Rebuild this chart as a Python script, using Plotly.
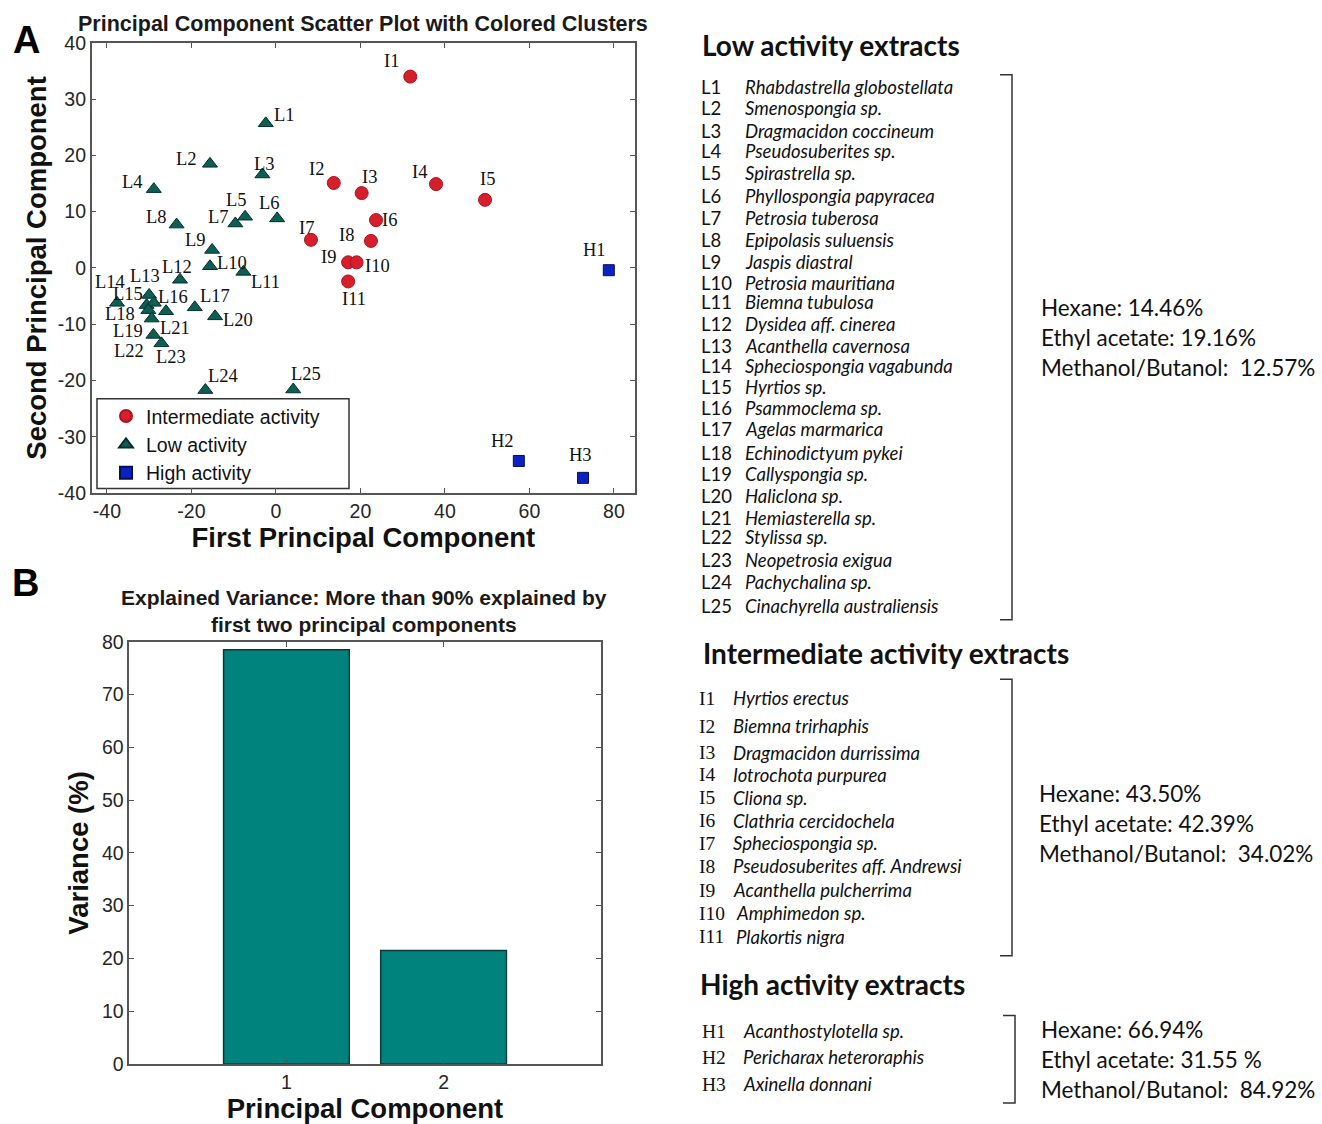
import plotly.graph_objects as go

W, H = 1322, 1124

# ---------------- DATA ----------------
inter_labels = ["I1", "I2", "I3", "I4", "I5", "I6", "I7", "I8", "I9", "I10", "I11"]
inter_pc1 = [31.8, 13.7, 20.3, 37.9, 49.5, 23.7, 8.3, 22.5, 17.1, 19.1, 17.1]
inter_pc2 = [34.0, 15.1, 13.3, 14.9, 12.1, 8.5, 5.0, 4.8, 1.0, 1.0, -2.4]

low_labels = ["L%d" % i for i in range(1, 26)]
low_pc1 = [-2.4, -15.6, -3.2, -28.9, -7.3, 0.3, -9.6, -23.5, -15.1, -15.6, -7.7, -22.7,
           -30.0, -37.6, -30.6, -28.9, -19.2, -30.2, -29.4, -14.4, -26.0, -29.0, -27.1,
           -16.7, 4.1]
low_pc2 = [25.7, 18.5, 16.6, 14.0, 9.1, 8.8, 7.9, 7.7, 3.2, 0.3, -0.7, -2.1,
           -4.8, -6.2, -6.6, -6.2, -7.0, -7.5, -9.0, -8.6, -7.7, -11.9, -13.4,
           -21.7, -21.6]

high_labels = ["H1", "H2", "H3"]
high_pc1 = [78.8, 57.5, 72.7]
high_pc2 = [-0.4, -34.3, -37.3]

pc_components = [1, 2]
explained_variance = [78.5, 21.5]

a_xticks = [-40, -20, 0, 20, 40, 60, 80]
a_xtick_text = ["-40", "-20", "0", "20", "40", "60", "80"]
a_yticks = [-40, -30, -20, -10, 0, 10, 20, 30, 40]
a_ytick_text = ["-40", "-30", "-20", "-10", "0", "10", "20", "30", "40"]
b_yticks = [0, 10, 20, 30, 40, 50, 60, 70, 80]

low_species = ["Rhabdastrella globostellata", "Smenospongia sp.", "Dragmacidon coccineum",
               "Pseudosuberites sp.", "Spirastrella sp.", "Phyllospongia papyracea",
               "Petrosia tuberosa", "Epipolasis suluensis", "Jaspis diastral",
               "Petrosia mauritiana", "Biemna tubulosa", "Dysidea aff. cinerea",
               "Acanthella cavernosa", "Spheciospongia vagabunda", "Hyrtios sp.",
               "Psammoclema sp.", "Agelas marmarica", "Echinodictyum pykei",
               "Callyspongia sp.", "Haliclona sp.", "Hemiasterella sp.", "Stylissa sp.",
               "Neopetrosia exigua", "Pachychalina sp.", "Cinachyrella australiensis"]
inter_species = ["Hyrtios erectus", "Biemna trirhaphis", "Dragmacidon durrissima",
                 "Iotrochota purpurea", "Cliona sp.", "Clathria cercidochela",
                 "Spheciospongia sp.", "Pseudosuberites aff. Andrewsi",
                 "Acanthella pulcherrima", "Amphimedon sp.", "Plakortis nigra"]
high_species = ["Acanthostylotella sp.", "Pericharax heteroraphis", "Axinella donnani"]

low_yields = ["Hexane: 14.46%", "Ethyl acetate: 19.16%", "Methanol/Butanol:\u00a0 12.57%"]
inter_yields = ["Hexane: 43.50%", "Ethyl acetate: 42.39%", "Methanol/Butanol:\u00a0 34.02%"]
high_yields = ["Hexane: 66.94%", "Ethyl acetate: 31.55 %", "Methanol/Butanol:\u00a0 84.92%"]

# ---------------- LAYOUT HELPERS (pixel -> paper) ----------------
def px(x):
    return x / W

def py(y):
    yy = (y - 8.0) / 0.9858
    return 1 - yy / H

# label offsets (pixels, dx right / dy down) for point labels
inter_off = [(-19, -16), (-17, -14), (8, -16), (-17, -12), (2, -21), (13, 0), (-4, -12),
             (-24, -6), (-20, -5), (21, 4), (6, 18)]
low_off = [(19, -8), (-23, -5), (2, -11), (-21, -7), (-9, -17), (-8, -15), (-17, -6),
           (-20, -8), (-17, -10), (22, -3), (22, 10), (-3, -13), (-4, -19), (-7, -21),
           (-19, -11), (19, -6), (20, -11), (-28, 4), (-24, 12), (23, 4), (9, 17),
           (-24, 16), (10, 14), (18, -14), (13, -16)]
high_off = [(-14, -20), (-16, -20), (-3, -23)]

RED = "#d61f2c"
GREEN = "#0d5f56"
BLUE = "#0b22c2"
ARIAL = "Liberation Sans, Arial"
TICKFONT = dict(family=ARIAL, size=19.5, color="#262626")
TITLEFONT = dict(family=ARIAL, size=27.5, color="#111")
SERIF = "Liberation Serif, Times New Roman"
SANS = "Lato, Calibri, Open Sans"

fig = go.Figure()

fig.add_trace(go.Scatter(x=inter_pc1, y=inter_pc2, mode="markers", name="Intermediate activity",
                         marker=dict(symbol="circle", size=13, color=RED,
                                     line=dict(color="#b0101c", width=1)),
                         xaxis="x", yaxis="y"))
fig.add_trace(go.Scatter(x=low_pc1, y=low_pc2, mode="markers", name="Low activity",
                         marker=dict(symbol="triangle-up", size=13, color=GREEN,
                                     line=dict(color="#052e29", width=1)),
                         xaxis="x", yaxis="y"))
fig.add_trace(go.Scatter(x=high_pc1, y=high_pc2, mode="markers", name="High activity",
                         marker=dict(symbol="square", size=11, color=BLUE,
                                     line=dict(color="#06104a", width=1)),
                         xaxis="x", yaxis="y"))

fig.add_trace(go.Bar(x=pc_components, y=explained_variance, width=0.8, showlegend=False,
                     marker=dict(color="#00827d", line=dict(color="#0a3b38", width=1.5)),
                     xaxis="x2", yaxis="y2"))

annotations = []
for labs, xs, ys, offs in [(inter_labels, inter_pc1, inter_pc2, inter_off),
                           (low_labels, low_pc1, low_pc2, low_off),
                           (high_labels, high_pc1, high_pc2, high_off)]:
    for lab, xv, yv, (dx, dy) in zip(labs, xs, ys, offs):
        annotations.append(dict(x=xv, y=yv, xref="x", yref="y", text=lab, showarrow=False,
                                xshift=dx, yshift=-dy,
                                font=dict(family=SERIF, size=18.5, color="#111")))

# Panel letters and titles
annotations += [
    dict(x=px(26), y=py(37), text="<b>A</b>", font=dict(family=ARIAL, size=38, color="#000")),
    dict(x=px(25), y=py(583), text="<b>B</b>", font=dict(family=ARIAL, size=38, color="#000")),
    dict(x=px(363), y=py(21), text="<b>Principal Component Scatter Plot with Colored Clusters</b>",
         font=dict(family=ARIAL, size=21.5, color="#1a1a1a")),
    dict(x=px(364), y=py(611), text="<b>Explained Variance: More than 90% explained by<br>first two principal components</b>",
         font=dict(family=ARIAL, size=21, color="#1a1a1a")),
]
for a in annotations[-4:]:
    a.update(xref="paper", yref="paper", showarrow=False, xanchor="center", yanchor="middle")

def txt(x, y, text, size=17, family=SANS, anchor="left", color="#111"):
    annotations.append(dict(x=px(x), y=py(y), xref="paper", yref="paper", text=text,
                            showarrow=False, xanchor=anchor, yanchor="middle",
                            font=dict(family=family, size=size, color=color)))

SPSIZE = 18.5
CODESIZE = 18.5
# Right-side legend text
txt(700, 42, "<b>Low activity extracts</b>", size=28)
low_y = [84, 106, 129, 149, 171, 194, 216, 238, 260, 281, 301, 323, 345, 365, 386, 407,
         428, 452, 474, 496, 518, 537, 560, 582, 606]
for lab, sp, yy in zip(low_labels, low_species, low_y):
    txt(699, yy, lab, size=CODESIZE)
    txt(743, yy, "<i>%s</i>" % sp, size=SPSIZE)
for s, yy in zip(low_yields, [306, 336, 366]):
    txt(1039, yy, s, size=22.5)

txt(701, 654, "<b>Intermediate activity extracts</b>", size=28)
inter_y = [699, 727, 754, 776, 799, 822, 845, 868, 892, 915, 939]
for lab, sp, yy in zip(inter_labels, inter_species, inter_y):
    txt(697, yy, lab, size=19.5, family=SERIF)
    txt(731 if len(lab) < 3 else 734, yy, "<i>%s</i>" % sp, size=SPSIZE)
for s, yy in zip(inter_yields, [795, 825, 855]):
    txt(1037, yy, s, size=22.5)

txt(698, 986, "<b>High activity extracts</b>", size=28)
high_y = [1034, 1060, 1087]
for lab, sp, yy in zip(high_labels, high_species, high_y):
    txt(700, yy, lab, size=19.5, family=SERIF)
    txt(741, yy, "<i>%s</i>" % sp, size=SPSIZE)
for s, yy in zip(high_yields, [1032, 1062, 1092]):
    txt(1039, yy, s, size=22.5)

def bracket(x0, x1, y0, y1):
    return dict(type="path", xref="paper", yref="paper",
                path="M %f,%f L %f,%f L %f,%f L %f,%f" % (px(x0), py(y0), px(x1), py(y0),
                                                          px(x1), py(y1), px(x0), py(y1)),
                line=dict(color="#333", width=1.5))

shapes = [bracket(1000, 1012, 72, 620), bracket(1000, 1012, 680, 958), bracket(1003, 1015, 1018, 1106),
          # legend frame
          dict(type="rect", xref="paper", yref="paper", x0=px(97), x1=px(349), y0=py(488), y1=py(398),
               line=dict(color="#333", width=1.5), fillcolor="white", layer="below")]

axis_common = dict(showline=True, linecolor="#555", linewidth=1.5, mirror="ticks", ticks="inside",
                   ticklen=5, tickcolor="#555", showgrid=False, zeroline=False, tickfont=TICKFONT)

fig.update_layout(
    width=W, height=H, autosize=False,
    margin=dict(l=0, r=0, t=0, b=0),
    paper_bgcolor="white", plot_bgcolor="white",
    xaxis=dict(domain=[px(91.7), px(635)], range=[-43.6, 85], tickvals=a_xticks, ticktext=a_xtick_text,
               anchor="y", title=dict(text="<b>First Principal Component</b>", font=TITLEFONT, standoff=5),
               **axis_common),
    yaxis=dict(domain=[py(492.7), py(40)], range=[-40, 40], tickvals=a_yticks, ticktext=a_ytick_text,
               anchor="x", title=dict(text="<b>Second Principal Component</b>", font=TITLEFONT, standoff=3),
               **axis_common),
    xaxis2=dict(domain=[px(129.3), px(600.7)], range=[0, 3], tickvals=pc_components,
                anchor="y2", title=dict(text="<b>Principal Component</b>", font=TITLEFONT, standoff=0),
                **axis_common),
    yaxis2=dict(domain=[py(1066.7), py(642.3)], range=[0, 80], tickvals=b_yticks,
                anchor="x2", title=dict(text="<b>Variance (%)</b>", font=TITLEFONT, standoff=5),
                **axis_common),
    legend=dict(x=px(106), y=py(396), xanchor="left", yanchor="top", bgcolor="rgba(0,0,0,0)",
                borderwidth=0, traceorder="normal",
                font=dict(family=ARIAL, size=19.5, color="#111"),
                itemsizing="constant"),
    annotations=annotations,
    shapes=shapes,
    showlegend=True,
)

fig.write_html("out.html", config={"displayModeBar": False},
               post_script="document.body.style.margin='0px';document.body.style.overflow='hidden';")
